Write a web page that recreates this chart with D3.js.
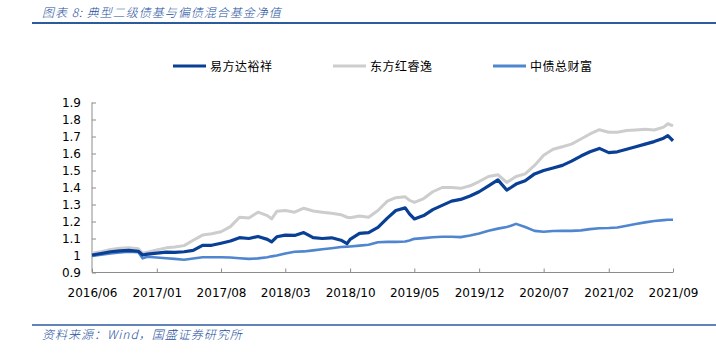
<!DOCTYPE html>
<html>
<head>
<meta charset="utf-8">
<script src="https://cdn.jsdelivr.net/npm/d3@7"></script>
<style>
  body { margin: 0; background: #fff; }
  svg { display: block; }
</style>
</head>
<body>
<div id="chart"></div>
<script>
// dates (start of month, some mid-month points)
const dates = [
  "2016-06-01","2016-07-01","2016-08-01","2016-09-01","2016-10-01","2016-11-01","2016-11-15","2016-12-01",
  "2017-01-01","2017-02-01","2017-03-01","2017-04-01","2017-05-01","2017-06-01","2017-07-01","2017-08-01",
  "2017-09-01","2017-10-01","2017-11-01","2017-12-01","2018-01-01","2018-01-15","2018-02-01","2018-03-01",
  "2018-04-01","2018-05-01","2018-06-01","2018-07-01","2018-08-01","2018-09-01","2018-09-21","2018-10-01",
  "2018-11-01","2018-12-01","2019-01-01","2019-02-01","2019-03-01","2019-04-01","2019-04-15","2019-05-01",
  "2019-06-01","2019-07-01","2019-08-01","2019-09-01","2019-10-01","2019-11-01","2019-12-01","2020-01-01",
  "2020-02-01","2020-03-01","2020-03-15","2020-04-01","2020-05-01","2020-06-01","2020-07-01","2020-08-01",
  "2020-09-01","2020-10-01","2020-11-01","2020-12-01","2021-01-01","2021-02-01","2021-03-01","2021-04-01",
  "2021-05-01","2021-06-01","2021-07-01","2021-08-01","2021-08-15","2021-09-01"
];

const yfdYuxiang = [
  1.003,1.012,1.022,1.027,1.030,1.025,1.003,1.008,
  1.014,1.020,1.018,1.022,1.030,1.060,1.060,1.072,
  1.085,1.105,1.100,1.112,1.095,1.080,1.110,1.120,
  1.118,1.135,1.105,1.100,1.104,1.090,1.070,1.095,
  1.130,1.135,1.165,1.220,1.265,1.280,1.245,1.215,
  1.235,1.270,1.295,1.320,1.330,1.350,1.375,1.410,
  1.445,1.385,1.400,1.420,1.440,1.480,1.500,1.515,
  1.530,1.555,1.585,1.610,1.630,1.605,1.610,1.625,
  1.640,1.655,1.670,1.690,1.705,1.675
];

const dfhRuiyi = [
  1.013,1.022,1.035,1.042,1.046,1.040,1.013,1.020,
  1.032,1.045,1.050,1.058,1.090,1.120,1.128,1.140,
  1.170,1.225,1.220,1.255,1.235,1.215,1.260,1.265,
  1.255,1.278,1.262,1.255,1.248,1.240,1.225,1.222,
  1.232,1.225,1.265,1.320,1.340,1.345,1.325,1.312,
  1.335,1.375,1.400,1.400,1.395,1.410,1.435,1.465,
  1.475,1.430,1.445,1.465,1.480,1.530,1.590,1.625,
  1.640,1.655,1.685,1.715,1.740,1.725,1.725,1.735,
  1.738,1.742,1.738,1.755,1.775,1.762
];

const zzWealth = [
  0.997,1.005,1.012,1.018,1.022,1.020,0.983,0.993,
  0.988,0.984,0.980,0.975,0.982,0.990,0.990,0.990,
  0.988,0.984,0.980,0.983,0.990,0.995,1.000,1.012,
  1.022,1.024,1.030,1.037,1.043,1.050,1.052,1.053,
  1.058,1.063,1.078,1.080,1.080,1.082,1.088,1.098,
  1.102,1.107,1.110,1.110,1.108,1.118,1.130,1.145,
  1.158,1.168,1.175,1.186,1.168,1.145,1.140,1.144,
  1.145,1.145,1.148,1.155,1.160,1.162,1.165,1.175,
  1.185,1.195,1.203,1.208,1.210,1.210
];

const seriesNames = ["易方达裕祥", "东方红睿逸", "中债总财富"];
const seriesColors = ["#0a3f96", "#cdcdcd", "#4f86cf"];
const xTickLabels = ["2016/06","2017/01","2017/08","2018/03","2018/10","2019/05","2019/12","2020/07","2021/02","2021/09"];
const yTicks = [0.9, 1.0, 1.1, 1.2, 1.3, 1.4, 1.5, 1.6, 1.7, 1.8, 1.9];

const W = 716, H = 353;
const parse = d3.timeParse("%Y-%m-%d");
const parseTick = d3.timeParse("%Y/%m");

const svg = d3.select("#chart").append("svg")
  .attr("width", W)
  .attr("height", H);

// header and footer
const blue = "#2c5aa0";
svg.append("text")
  .attr("x", 42).attr("y", 17)
  .attr("font-family", "'Noto Sans CJK SC', 'DejaVu Sans', sans-serif")
  .attr("font-size", "12px")
  .attr("font-weight", 300)
  .attr("font-style", "italic")
  .attr("letter-spacing", "1px")
  .attr("fill", "#244f9e")
  .text("图表 8:  典型二级债基与偏债混合基金净值");

svg.append("line")
  .attr("x1", 32).attr("x2", W).attr("y1", 23).attr("y2", 23)
  .attr("stroke", blue).attr("stroke-width", 2);

svg.append("line")
  .attr("x1", 32).attr("x2", W).attr("y1", 325).attr("y2", 325)
  .attr("stroke", blue).attr("stroke-width", 1.5);

svg.append("text")
  .attr("x", 42).attr("y", 339)
  .attr("font-family", "'Noto Sans CJK SC', 'DejaVu Sans', sans-serif")
  .attr("font-size", "12px")
  .attr("font-weight", 300)
  .attr("font-style", "italic")
  .attr("letter-spacing", "1px")
  .attr("fill", "#244f9e")
  .text("资料来源：Wind，国盛证券研究所");

// scales
const x = d3.scaleTime()
  .domain([parseTick(xTickLabels[0]), parseTick(xTickLabels[xTickLabels.length - 1])])
  .range([92, 673]);

const y = d3.scaleLinear()
  .domain([0.9, 1.9])
  .range([272.5, 102.5]);

// axes
const axisColor = "#8c8c8c";
const font = "'DejaVu Sans', sans-serif";

const yAxis = svg.append("g")
  .attr("transform", "translate(92,0)")
  .call(d3.axisRight(y).tickValues(yTicks).tickSize(4).tickFormat(d => d3.format("")(+d.toFixed(1))));
yAxis.select(".domain").attr("stroke", axisColor).attr("d", `M0,${y(0.9)}V${y(1.9)}`);
yAxis.selectAll(".tick line").attr("stroke", axisColor);
yAxis.selectAll(".tick text")
  .attr("x", -11)
  .attr("text-anchor", "end")
  .attr("font-family", font)
  .attr("font-size", "12px")
  .attr("fill", "#000");

const xAxis = svg.append("g")
  .attr("transform", `translate(0,${y(0.9)})`)
  .call(d3.axisTop(x).tickValues(xTickLabels.map(parseTick)).tickSize(4).tickFormat(d3.timeFormat("%Y/%m")));
xAxis.select(".domain").attr("stroke", axisColor).attr("d", `M${x.range()[0]},0H${x.range()[1]}`);
xAxis.selectAll(".tick line").attr("stroke", axisColor);
xAxis.selectAll(".tick text")
  .attr("y", 24)
  .attr("font-family", font)
  .attr("font-size", "12px")
  .attr("fill", "#000");

// lines
const allSeries = [yfdYuxiang, dfhRuiyi, zzWealth];
const widths = [3.2, 3, 2.6];
const line = d3.line()
  .x(d => x(d.date))
  .y(d => y(d.value));

// draw gray first, then mid blue, then dark blue on top
[1, 2, 0].forEach(i => {
  const pts = dates.map((d, j) => ({ date: parse(d), value: allSeries[i][j] }));
  svg.append("path")
    .datum(pts)
    .attr("fill", "none")
    .attr("stroke", seriesColors[i])
    .attr("stroke-width", widths[i])
    .attr("stroke-linejoin", "round")
    .attr("d", line);
});

// legend
const legendX = [173, 333, 493];
const legend = svg.append("g");
seriesNames.forEach((name, i) => {
  legend.append("line")
    .attr("x1", legendX[i]).attr("x2", legendX[i] + 33)
    .attr("y1", 66).attr("y2", 66)
    .attr("stroke", seriesColors[i])
    .attr("stroke-width", 3);
  legend.append("text")
    .attr("x", legendX[i] + 37).attr("y", 71)
    .attr("font-family", "'Noto Sans CJK SC', sans-serif")
    .attr("font-size", "12px")
    .attr("letter-spacing", "0.5px")
    .attr("fill", "#000")
    .text(name);
});
</script>
</body>
</html>
